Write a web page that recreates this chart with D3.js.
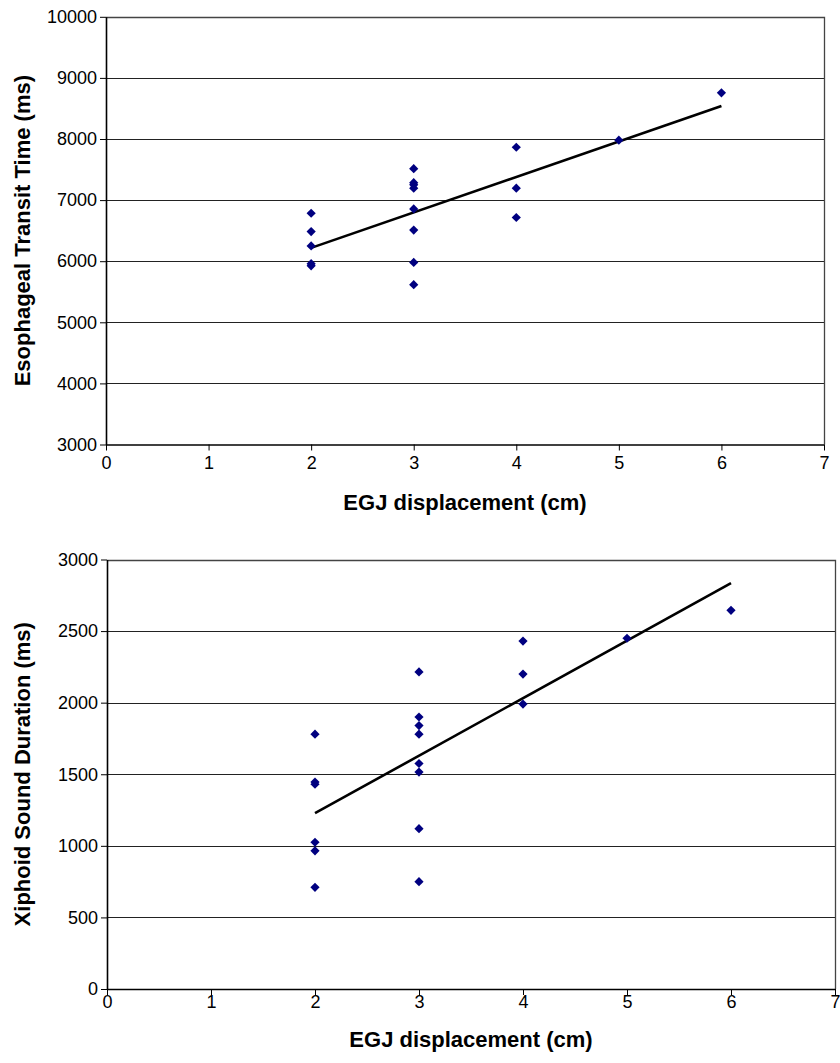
<!DOCTYPE html>
<html>
<head>
<meta charset="utf-8">
<script src="https://cdn.jsdelivr.net/npm/d3@7"></script>
<style>
  body { margin: 0; background: #fff; }
  svg { display: block; font-family: "Liberation Sans", Arial, sans-serif; }
</style>
</head>
<body>
<div class="my_dataviz"></div>
<script>
// top chart: EGJ displacement vs esophageal transit time
const topX = [2, 2, 2, 2, 2, 3, 3, 3, 3, 3, 3, 3, 3, 4, 4, 4, 5, 6];
const topY = [6785, 6485, 6250, 5960, 5925, 7515, 7285, 7250, 7195, 6855, 6510, 5980, 5615, 7865, 7195, 6715, 7980, 8755];
const topYTicks = [3000, 4000, 5000, 6000, 7000, 8000, 9000, 10000];

// bottom chart: EGJ displacement vs xiphoid sound duration
const botX = [2, 2, 2, 2, 2, 2, 3, 3, 3, 3, 3, 3, 3, 3, 4, 4, 4, 5, 6];
const botY = [1780, 1445, 1430, 1025, 965, 710, 2215, 1900, 1840, 1780, 1575, 1515, 1120, 750, 2430, 2200, 1990, 2450, 2645];
const botYTicks = [0, 500, 1000, 1500, 2000, 2500, 3000];

const xTicks = [0, 1, 2, 3, 4, 5, 6, 7];
const xLabel = "EGJ displacement (cm)";

const svg = d3.select(".my_dataviz")
    .append("svg")
    .attr("width", 840)
    .attr("height", 1063);

function linReg(xs, ys) {
    let n = xs.length;
    let mx = d3.mean(xs), my = d3.mean(ys);
    let sxy = 0, sxx = 0;
    for (let i = 0; i < n; i++) {
        sxy += (xs[i] - mx) * (ys[i] - my);
        sxx += (xs[i] - mx) * (xs[i] - mx);
    }
    let b = sxy / sxx;
    return { b: b, a: my - b * mx };
}

function drawChart(opt) {
    let x = d3.scaleLinear().domain([0, 7]).range([opt.left, opt.right]);
    let y = d3.scaleLinear().domain(opt.yDomain).range([opt.bottom, opt.top]);

    let g = svg.append("g");

    // gridlines
    g.append("g")
        .selectAll("line")
        .data(opt.yTicks.slice(1, -1))
        .enter()
        .append("line")
        .attr("x1", opt.left)
        .attr("x2", opt.right)
        .attr("y1", d => Math.round(y(d)) + 0.5)
        .attr("y2", d => Math.round(y(d)) + 0.5)
        .attr("stroke", "#222")
        .attr("stroke-width", 1);

    // plot border (top, right)
    g.append("path")
        .attr("d", "M" + opt.left + "," + (Math.round(y(opt.yDomain[1])) + 0.5) +
            "H" + (Math.round(opt.right) + 0.5) + "V" + opt.bottom)
        .attr("fill", "none")
        .attr("stroke", "#444")
        .attr("stroke-width", 1.3);

    // axes
    let xAxis = g.append("g")
        .attr("transform", "translate(0," + opt.bottom + ")")
        .call(d3.axisBottom(x).tickValues(xTicks).tickFormat(d3.format("d"))
            .tickSize(6).tickSizeOuter(0).tickPadding(opt.xPad));

    let yAxis = g.append("g")
        .attr("transform", "translate(" + opt.left + ",0)")
        .call(d3.axisLeft(y).tickValues(opt.yTicks).tickFormat(d3.format("d"))
            .tickSize(6).tickSizeOuter(0).tickPadding(3));

    [xAxis, yAxis].forEach(a => {
        a.select(".domain").attr("stroke", "#000").attr("stroke-width", 1.6);
        a.selectAll(".tick line").attr("stroke", "#000").attr("stroke-width", 1);
        a.selectAll(".tick text")
            .attr("fill", "#000")
            .style("font-size", "18px")
            .style("font-family", "'Liberation Sans', Arial, sans-serif");
    });

    // trendline
    let fit = linReg(opt.xs, opt.ys);
    let x0 = d3.min(opt.xs), x1 = d3.max(opt.xs);
    g.append("line")
        .attr("x1", x(x0))
        .attr("y1", y(fit.a + fit.b * x0))
        .attr("x2", x(x1))
        .attr("y2", y(fit.a + fit.b * x1))
        .attr("stroke", "#000")
        .attr("stroke-width", 2.6);

    // points
    g.append("g")
        .selectAll("path")
        .data(opt.xs.map((d, i) => [d, opt.ys[i]]))
        .enter()
        .append("path")
        .attr("transform", d => "translate(" + x(d[0]) + "," + y(d[1]) + ")")
        .attr("d", "M0,-4.6L4.6,0L0,4.6L-4.6,0Z")
        .style("fill", "#000080");

    // axis titles
    g.append("text")
        .attr("x", (opt.left + opt.right) / 2)
        .attr("y", opt.xLabelY)
        .attr("text-anchor", "middle")
        .style("font-size", "22px")
        .style("font-weight", "bold")
        .text(xLabel);

    g.append("text")
        .attr("transform", "translate(30," + (opt.top + opt.bottom) / 2 + ") rotate(-90)")
        .attr("text-anchor", "middle")
        .style("font-size", "22px")
        .style("font-weight", "bold")
        .text(opt.yLabel);
}

drawChart({
    xs: topX, ys: topY, yTicks: topYTicks, yDomain: [3000, 10000],
    left: 106, right: 824, top: 16.8, bottom: 444.5,
    xPad: 6, xLabelY: 510,
    yLabel: "Esophageal Transit Time (ms)"
});

drawChart({
    xs: botX, ys: botY, yTicks: botYTicks, yDomain: [0, 3000],
    left: 107, right: 835, top: 559.5, bottom: 989,
    xPad: 0, xLabelY: 1047,
    yLabel: "Xiphoid Sound Duration (ms)"
});
</script>
</body>
</html>
